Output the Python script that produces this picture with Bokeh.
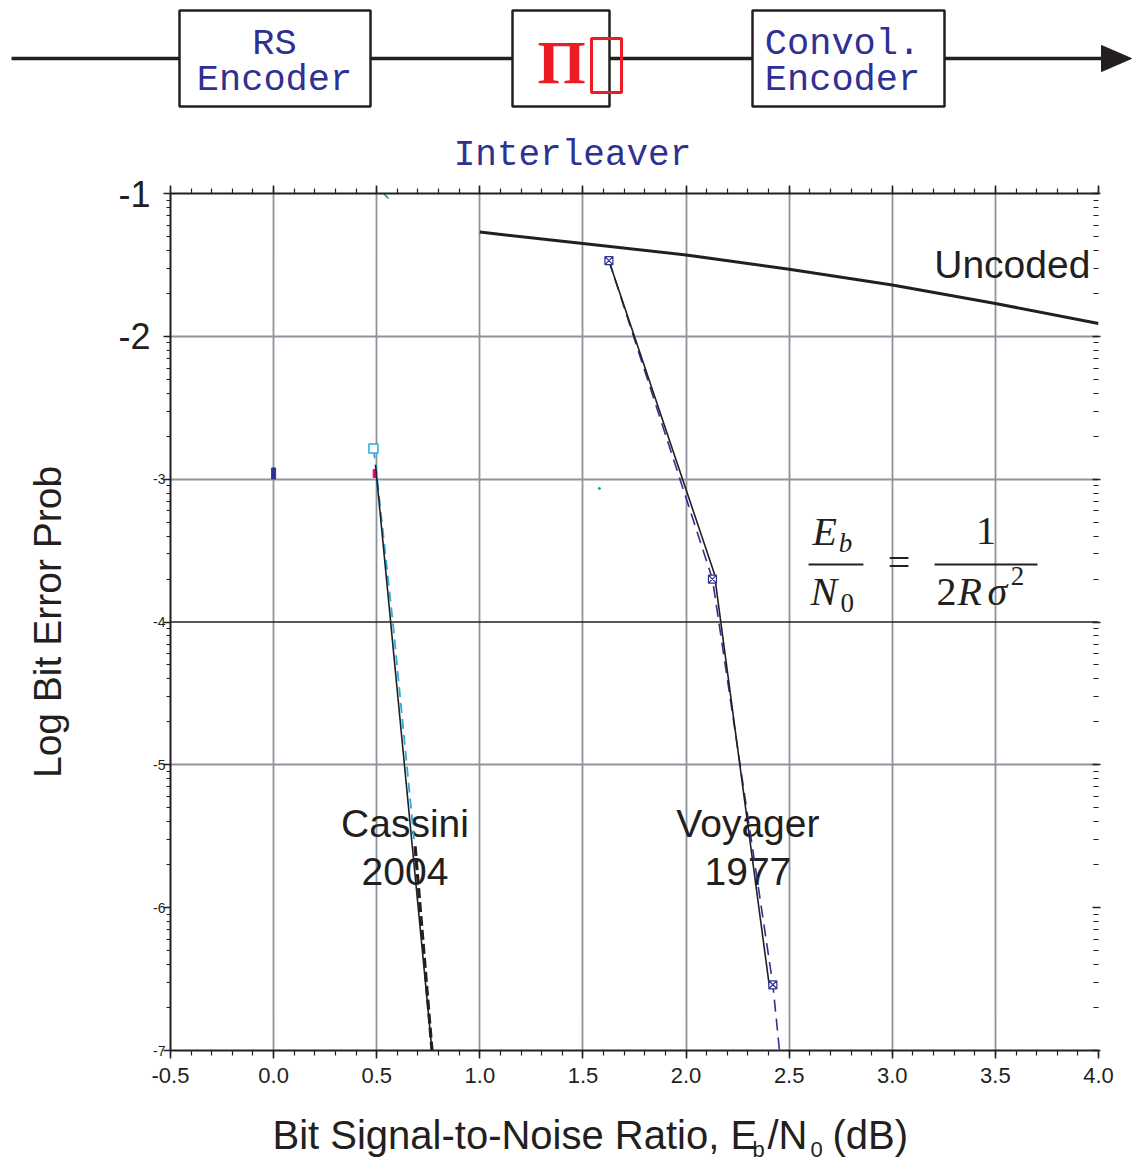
import math
from bokeh.plotting import figure
from bokeh.models import Range1d, LinearAxis, FixedTicker, Grid, Span
from bokeh.embed import file_html
from bokeh.resources import INLINE
from bokeh.core.properties import value

# ---------------- data ----------------
x_ticks = [-0.5, 0.0, 0.5, 1.0, 1.5, 2.0, 2.5, 3.0, 3.5, 4.0]
x_tick_labels = ["-0.5", "0.0", "0.5", "1.0", "1.5", "2.0", "2.5", "3.0", "3.5", "4.0"]
x_grid = [0.0, 0.5, 1.0, 1.5, 2.0, 2.5, 3.0, 3.5]
y_ticks = [-7, -6, -5, -4, -3, -2, -1]
y_tick_labels = ["-7", "-6", "-5", "-4", "-3", "-2", "-1"]
y_big_ticks = [-2, -1]
y_grid = [-2, -3, -5]

uncoded_x = [1.0, 1.5, 2.0, 2.5, 3.0, 3.5, 4.0]
uncoded_y = [-1.27, -1.35, -1.43, -1.53, -1.64, -1.77, -1.91]

voyager_x = [1.626, 2.137, 2.404]
voyager_y = [-1.47, -3.66, -6.55]
voyager_dash_x = [1.626, 2.128, 2.421, 2.453]
voyager_dash_y = [-1.47, -3.70, -6.54, -7.0]
voyager_pts_x = [1.626, 2.128, 2.421]
voyager_pts_y = [-1.47, -3.70, -6.54]

cassini_x = [0.494, 0.768]
cassini_y = [-2.90, -7.0]
cassini_cyan_x = [0.484, 0.494, 0.578, 0.681]
cassini_cyan_y = [-2.785, -2.89, -4.0, -5.52]
cassini_dash_x = [0.686, 0.768]
cassini_dash_y = [-5.57, -7.0]
cassini_pt_x = [0.484]
cassini_pt_y = [-2.785]

BLUE = "#2e3192"
RED = "#ed1c24"
CYAN = "#29abe2"
GRAY = "#8e949c"
INK = "#231f20"
SANS = "Liberation Sans"
W = 1132
HDR_H = 175

# ---------------- header diagram (pixel space) ----------------
hdr = figure(width=W, height=HDR_H, x_range=Range1d(0, W), y_range=Range1d(HDR_H, 0),
             output_backend="svg", toolbar_location=None,
             x_axis_location=None, y_axis_location=None,
             min_border=0, outline_line_color=None)
hdr.grid.visible = False

hdr.segment(x0=[11, 370, 609, 944], y0=[58] * 4, x1=[179, 512, 752, 1104], y1=[58] * 4,
            line_color=INK, line_width=3.5)
hdr.patch([1101, 1101, 1131], [45, 71, 58], color=INK)
hdr.quad(left=[179, 512, 752], right=[370, 609, 944], top=[10] * 3, bottom=[106] * 3,
         fill_color="white", line_color=INK, line_width=2.5)
hdr.text(x=[274, 274, 842, 842], y=[43, 79, 43, 79],
         text=["RS", "Encoder", "Convol.", "Encoder"],
         text_font=value("Liberation Mono"), text_font_size="37px", text_color=BLUE,
         text_align="center", text_baseline="middle")
hdr.text(x=[572], y=[155], text=["Interleaver"],
         text_font=value("Liberation Mono"), text_font_size="36px", text_color=BLUE,
         text_align="center", text_baseline="middle")
hdr.text(x=[561], y=[61], text=["\u03a0"], text_font=value("Liberation Serif"),
         text_font_style="bold", text_font_size="62px", text_color=RED,
         text_align="center", text_baseline="middle")
hdr.quad(left=[591], right=[621], top=[38], bottom=[92], fill_color=None,
         line_color=RED, line_width=3)

# ---------------- main chart ----------------
p = figure(width=W, height=1100 - HDR_H, x_range=Range1d(-0.5, 4.0), y_range=Range1d(-7, -1),
           output_backend="svg", toolbar_location=None,
           x_axis_location=None, y_axis_location=None,
           min_border_left=170, min_border_right=34, min_border_top=193 - HDR_H,
           min_border_bottom=50, outline_line_color=None)
p.grid.visible = False

x_minor = [round(-0.5 + 0.1 * i, 2) for i in range(46)]
y_minor = [d + math.log10(k) for d in range(-7, -1) for k in range(2, 10)]

def make_axis(ticks, minor, overrides):
    ax = LinearAxis(ticker=FixedTicker(ticks=ticks, minor_ticks=minor),
                    major_label_overrides=overrides)
    ax.axis_line_color = INK
    ax.axis_line_width = 2
    ax.major_tick_line_color = INK
    ax.minor_tick_line_color = INK
    ax.major_tick_line_width = 1.6
    ax.minor_tick_line_width = 1.2
    ax.major_label_text_font = SANS
    ax.major_label_text_color = INK
    return ax

bottom = make_axis(x_ticks, x_minor, {t: l for t, l in zip(x_ticks, x_tick_labels)})
bottom.major_tick_out = 8
bottom.major_tick_in = 0
bottom.minor_tick_out = 5
bottom.minor_tick_in = 0
bottom.major_label_text_font_size = "22px"
bottom.major_label_standoff = 9
p.add_layout(bottom, "below")

top = make_axis(x_ticks, x_minor, {t: "" for t in x_ticks})
top.major_tick_out = 8
top.major_tick_in = 0
top.minor_tick_out = 5
top.minor_tick_in = 0
p.add_layout(top, "above")

# inner left axis: ticks and small labels
inner_over = {t: ("" if t in y_big_ticks else l) for t, l in zip(y_ticks, y_tick_labels)}
left = make_axis(y_ticks, y_minor, inner_over)
left.major_tick_out = 7
left.major_tick_in = 0
left.minor_tick_out = 4
left.minor_tick_in = 0
left.major_label_text_font_size = "14px"
left.major_label_standoff = -2
p.add_layout(left, "left")

# outer left axis: large labels for -1 and -2, plus the axis title
outer = LinearAxis(ticker=FixedTicker(ticks=y_big_ticks),
                   major_label_overrides={t: y_tick_labels[y_ticks.index(t)] for t in y_big_ticks})
outer.axis_line_color = None
outer.major_tick_line_color = None
outer.minor_tick_line_color = None
outer.major_tick_out = 0
outer.major_tick_in = 0
outer.major_label_standoff = 0
outer.major_label_text_font = SANS
outer.major_label_text_font_size = "36px"
outer.major_label_text_color = INK
outer.axis_label = "Log Bit Error Prob"
outer.axis_label_text_font = SANS
outer.axis_label_text_font_style = "normal"
outer.axis_label_text_font_size = "39px"
outer.axis_label_text_color = INK
outer.axis_label_standoff = 46
p.add_layout(outer, "left")

right = make_axis(y_ticks, y_minor, {t: "" for t in y_ticks})
right.axis_line_color = None
right.major_tick_in = 6
right.major_tick_out = 2
right.minor_tick_in = 5
right.minor_tick_out = 0
p.add_layout(right, "right")

p.add_layout(Grid(dimension=0, ticker=FixedTicker(ticks=x_grid),
                  grid_line_color=GRAY, grid_line_width=1.8))
p.add_layout(Grid(dimension=1, ticker=FixedTicker(ticks=y_grid),
                  grid_line_color=GRAY, grid_line_width=1.8))
p.add_layout(Span(location=-4, dimension="width", line_color=INK, line_width=1.4))

# curve labels
p.text(x=[3.582, 0.637, 0.637, 2.300, 2.300], y=[-1.499, -5.411, -5.749, -5.411, -5.749],
       text=["Uncoded", "Cassini", "2004", "Voyager", "1977"],
       text_font=value(SANS), text_font_size="39px", text_color=INK,
       text_align="center", text_baseline="middle")

# formula  Eb/N0 = 1/(2 R sigma^2)
SERIF = value("Liberation Serif")
p.segment(x0=[2.594, 3.205], y0=[-3.597, -3.597], x1=[2.860, 3.704], y1=[-3.597, -3.597],
          line_color=INK, line_width=2)
p.text(x=[2.613, 2.604, 3.316, 3.462], y=[-3.366, -3.787, -3.787, -3.787],
       text=["E", "N", "R", "\u03c3"], text_font=SERIF, text_font_style="italic",
       text_font_size="40px", text_color=INK, text_align="left", text_baseline="middle")
p.text(x=[2.740], y=[-3.447], text=["b"], text_font=SERIF, text_font_style="italic",
       text_font_size="27px", text_color=INK, text_align="left", text_baseline="middle")
p.text(x=[2.749, 3.575], y=[-3.868, -3.679], text=["0", "2"], text_font=SERIF,
       text_font_size="27px", text_color=INK, text_align="left", text_baseline="middle")
p.text(x=[3.214], y=[-3.787], text=["2"], text_font=SERIF, text_font_size="40px",
       text_color=INK, text_align="left", text_baseline="middle")
p.text(x=[3.033, 3.455], y=[-3.58, -3.366], text=["=", "1"], text_font=SERIF,
       text_font_size="40px", text_color=INK, text_align="center", text_baseline="middle")

# small stray marks
p.rect(x=[0.0], y=[-2.96], width=4, height=11, width_units="screen", height_units="screen",
       color=BLUE)
p.rect(x=[0.49], y=[-2.96], width=3, height=8, width_units="screen", height_units="screen",
       color="#e6007e")
p.segment(x0=[0.533], y0=[-1.0], x1=[0.557], y1=[-1.035], line_color="#00a651", line_width=1.5)
p.scatter(x=[1.580], y=[-3.065], size=2, color="#00a651")

# curves
p.line(uncoded_x, uncoded_y, line_color=INK, line_width=3)
p.line(voyager_dash_x, voyager_dash_y, line_color=BLUE, line_width=1.6, line_dash="12 7")
p.line(voyager_x, voyager_y, line_color=INK, line_width=1.6)
p.scatter(voyager_pts_x, voyager_pts_y, marker="square_x", size=8, line_color=BLUE,
          fill_color="white", line_width=1.2)
p.line(cassini_cyan_x, cassini_cyan_y, line_color=CYAN, line_width=1.8, line_dash="10 6")
p.line(cassini_dash_x, cassini_dash_y, line_color=INK, line_width=3.2, line_dash="10 4")
p.line(cassini_x, cassini_y, line_color=INK, line_width=1.6)
p.scatter(cassini_pt_x, cassini_pt_y, marker="square", size=9, line_color=CYAN,
          fill_color="white", line_width=1.5)

# ---------------- x-axis title with subscripts (pixel space) ----------------
ftr = figure(width=W, height=64, x_range=Range1d(0, W), y_range=Range1d(1164, 1100),
             output_backend="svg", toolbar_location=None,
             x_axis_location=None, y_axis_location=None,
             min_border=0, outline_line_color=None)
ftr.grid.visible = False
ftr.text(x=[272, 767, 832], y=[1134, 1134, 1134],
         text=["Bit Signal-to-Noise Ratio, E", "/N", "(dB)"],
         text_font=value(SANS), text_font_size="40px", text_color=INK,
         text_align="left", text_baseline="middle")
ftr.text(x=[752, 810], y=[1149, 1149], text=["b", "0"],
         text_font=value(SANS), text_font_size="22px", text_color=INK,
         text_align="left", text_baseline="middle")

open("out.html", "w").write(file_html([hdr, p, ftr], INLINE))
